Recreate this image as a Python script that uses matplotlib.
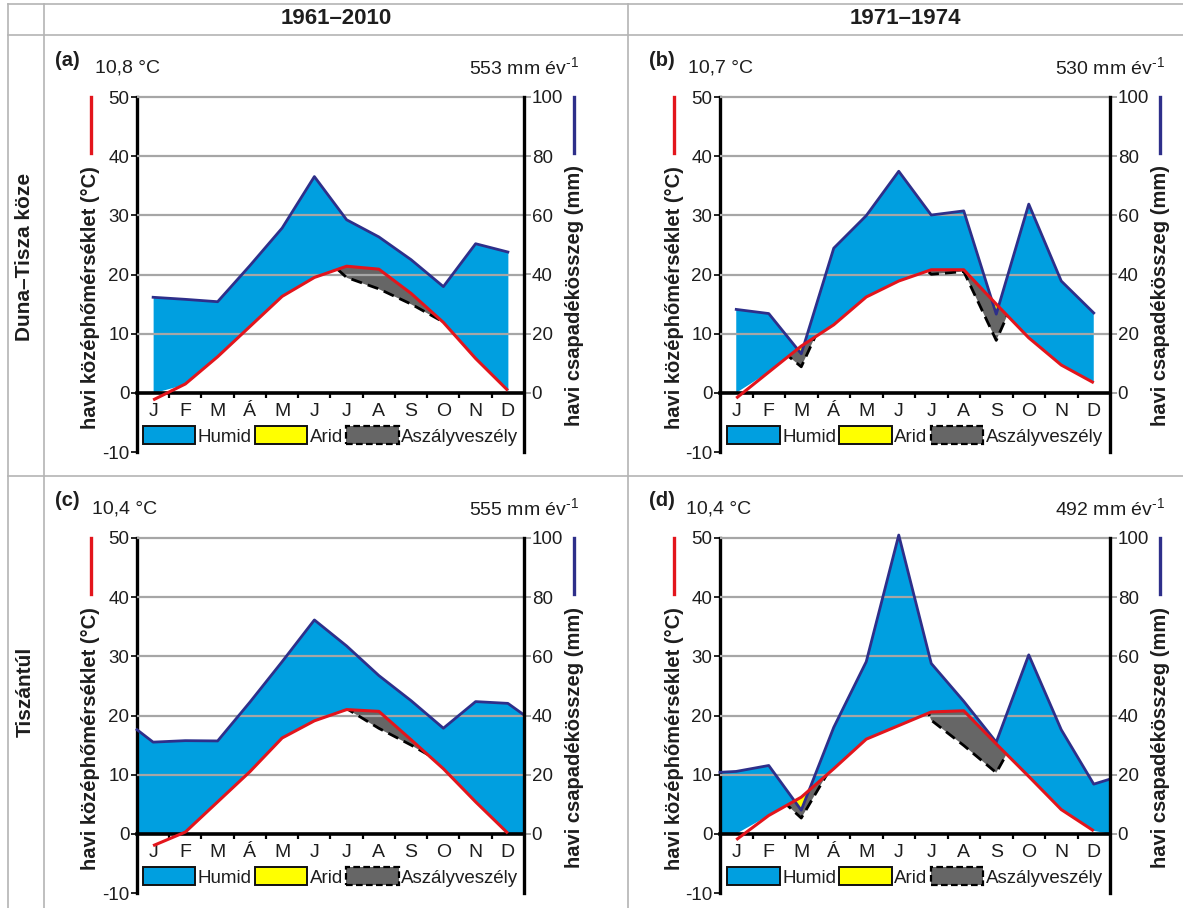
import numpy as np
import matplotlib
matplotlib.use("Agg")
import matplotlib.pyplot as plt
from matplotlib.patches import Patch, Polygon
from matplotlib.lines import Line2D

plt.rcParams['font.family'] = ['Liberation Sans', 'DejaVu Sans']
plt.rcParams['mathtext.fontset'] = 'custom'
plt.rcParams['mathtext.rm'] = 'Liberation Sans'
plt.rcParams['axes.unicode_minus'] = False

# ---- data -------------------------------------------------------------
months = ['J', 'F', 'M', 'Á', 'M', 'J', 'J', 'A', 'S', 'O', 'N', 'D']
periods = ['1961–2010', '1971–1974']
regions = ['Duna–Tisza köze', 'Tiszántúl']
tags = ['(a)', '(b)', '(c)', '(d)']

# monthly mean temperature (°C)
temp_a = [-1.2, 1.5, 6.1, 11.2, 16.3, 19.5, 21.4, 20.9, 16.8, 11.9, 5.8, 0.4]
temp_b = [-0.9, 3.5, 7.9, 11.5, 16.2, 18.9, 20.8, 20.8, 15.0, 9.3, 4.7, 1.7]
temp_c = [-2.0, 0.3, 5.4, 10.5, 16.2, 19.1, 21.0, 20.7, 15.9, 11.0, 5.4, 0.1]
temp_d = [-1.0, 3.1, 6.2, 11.0, 16.0, 18.3, 20.6, 20.8, 15.2, 9.7, 4.1, 0.5]

# monthly precipitation (mm)
prec_a = [32.3, 31.6, 30.8, 43.0, 55.7, 73.1, 58.5, 52.7, 45.0, 35.9, 50.4, 47.6]
prec_b = [28.2, 26.8, 13.2, 48.9, 59.9, 74.9, 60.1, 61.5, 26.6, 63.8, 37.8, 27.0]
prec_c = [31.0, 31.5, 31.4, 44.5, 58.2, 72.3, 63.5, 53.5, 45.0, 35.7, 44.7, 44.1]
prec_d = [21.1, 23.1, 8.0, 36.0, 58.2, 101.0, 57.6, 44.8, 31.0, 60.5, 35.2, 16.8]

# precipitation at the left / right edge of the diagram (mm), where drawn
edge_prec_c = [35.2, 40.2]
edge_prec_d = [20.8, 18.5]

annual_temp = ['10,8', '10,7', '10,4', '10,4']
annual_prec = ['553', '530', '555', '492']

temps = [temp_a, temp_b, temp_c, temp_d]
precs = [prec_a, prec_b, prec_c, prec_d]
edges = [None, None, edge_prec_c, edge_prec_d]

# ---- style --------------------------------------------------------------
BLUE = '#009fe0'
NAVY = '#2e2f8a'
RED = '#e3151c'
YELLOW = '#ffff00'
GRAY = '#666666'
GRID = '#a6a6a6'
TXT = '#1e1e1e'
TABLE = '#b4b4b4'

W, H = 1183, 908
fig = plt.figure(figsize=(W / 100, H / 100), dpi=100)


def fx(x):
    return x / W


def fy(y):
    return 1 - y / H


# table frame
def tline(x0, y0, x1, y1):
    fig.add_artist(Line2D([fx(x0), fx(x1)], [fy(y0), fy(y1)],
                          transform=fig.transFigure, color=TABLE, lw=1.2))


tline(8, 4, W, 4)
tline(8, 35, W, 35)
tline(8, 476, W, 476)
tline(8, 4, 8, H)
tline(44, 4, 44, H)
tline(628, 4, 628, H)

fig.text(fx(336), fy(19), periods[0], ha='center', va='center',
         fontsize=16, fontweight='bold', color=TXT)
fig.text(fx(905), fy(19), periods[1], ha='center', va='center',
         fontsize=16, fontweight='bold', color=TXT)
fig.text(fx(25), fy(257), regions[0], ha='center', va='center', rotation=90,
         fontsize=15, fontweight='bold', color=TXT)
fig.text(fx(25), fy(692), regions[1], ha='center', va='center', rotation=90,
         fontsize=15, fontweight='bold', color=TXT)

# axes boxes in pixels: left, right, top (50 °C), bottom (-10 °C)
boxes = [(137, 524, 97, 452), (720, 1110, 97, 452),
         (137, 524, 538, 893), (720, 1110, 538, 893)]
tag_x = [55, 649, 55, 649]
ttxt_x = [95, 688, 92, 686]

x = np.arange(12)

for k in range(4):
    l, r, t, b = boxes[k]
    ax = fig.add_axes([fx(l), fy(b), (r - l) / W, (b - t) / H])
    ax.patch.set_alpha(0)
    ax.set_xlim(-0.5, 11.5)
    ax.set_ylim(-10, 50)

    tmp = np.array(temps[k], dtype=float)
    pr = np.array(precs[k], dtype=float)
    p2 = pr / 2.0      # 10 °C = 20 mm
    p3 = pr / 3.0      # 10 °C = 30 mm (drought-risk curve)

    if edges[k] is not None:
        xf = np.r_[-0.5, x, 11.5]
        pf = np.r_[edges[k][0] / 2.0, p2, edges[k][1] / 2.0]
        lf = np.r_[0.0, np.maximum(tmp, 0), 0.0]
    else:
        xf = x.astype(float)
        pf = p2
        lf = np.maximum(tmp, 0)

    # humid period
    ax.fill_between(xf, lf, pf, where=pf >= lf, interpolate=True,
                    color=BLUE, lw=0, zorder=2, clip_on=False)
    # drought risk
    ax.fill_between(x, p3, tmp, where=tmp > p3, interpolate=True,
                    color=GRAY, lw=0, zorder=3)
    # arid period
    ax.fill_between(x, p2, tmp, where=tmp > p2, interpolate=True,
                    color=YELLOW, lw=0, zorder=3.5)

    # grid lines
    ax.hlines(np.arange(10, 51, 10), -0.5, 11.5, color=GRID, lw=1.6,
              zorder=4, clip_on=False)

    # dashed drought-risk curve, shown only below the temperature curve
    dl, = ax.plot(x, p3, color='black', lw=2.0, ls=(0, (4.0, 2.2)),
                  zorder=5)
    clip = Polygon(np.c_[np.r_[x, x[::-1]], np.r_[tmp, np.full(12, -10.0)]],
                   closed=True, transform=ax.transData)
    dl.set_clip_path(clip)

    ax.plot(xf, pf, color=NAVY, lw=2.0, zorder=6, clip_on=False)
    ax.plot(x, tmp, color=RED, lw=2.2, zorder=7, solid_capstyle='butt')

    # axes decoration
    ax.spines['top'].set_visible(False)
    ax.spines['right'].set_visible(False)
    ax.spines['left'].set_linewidth(2.4)
    ax.spines['left'].set_color('black')
    ax.spines['bottom'].set_position(('data', 0))
    ax.spines['bottom'].set_linewidth(2.6)
    ax.spines['bottom'].set_zorder(6.5)
    ax.set_yticks(np.arange(-10, 51, 10))
    ax.set_xticks(x)
    ax.set_xticklabels(months)
    ax.set_xticks(np.arange(0.5, 11.0, 1.0), minor=True)
    ax.tick_params(axis='x', which='major', length=0, pad=7.5,
                   labelsize=14, labelcolor=TXT)
    ax.tick_params(axis='x', which='minor', length=3.5, width=1.6,
                   direction='out', color='black')
    ax.tick_params(axis='y', length=4, width=1.2, pad=1.5, labelsize=13.5,
                   labelcolor=TXT)

    ax2 = ax.twinx()
    ax2.set_ylim(-20, 100)
    ax2.set_yticks(np.arange(0, 101, 20))
    for s in ('left', 'top', 'bottom'):
        ax2.spines[s].set_visible(False)
    ax2.spines['right'].set_linewidth(2.4)
    ax2.spines['right'].set_color('black')
    ax2.tick_params(axis='y', length=5, width=1.4, color=GRID, pad=0.5,
                    labelsize=13.5, labelcolor=TXT)

    # legend
    handles = [Patch(facecolor=BLUE, edgecolor='#111111', lw=1.4),
               Patch(facecolor=YELLOW, edgecolor='#111111', lw=1.4),
               Patch(facecolor=GRAY, edgecolor='black', lw=1.6,
                     linestyle=(0, (3, 1.5)))]
    ax.legend(handles, ['Humid', 'Arid', 'Aszályveszély'], loc='center',
              bbox_to_anchor=(0.5, 0.045), ncol=3, frameon=False,
              fontsize=13.5, handlelength=2.8, handleheight=1.05,
              handletextpad=0.15, columnspacing=0.15, borderpad=0,
              borderaxespad=0, labelcolor=TXT)

    # annotations above the diagram
    fig.text(fx(tag_x[k]), fy(t - 37), tags[k], ha='left', va='center',
             fontsize=14.5, fontweight='bold', color=TXT)
    fig.text(fx(ttxt_x[k]), fy(t - 29), annual_temp[k] + ' °C', ha='left',
             va='center', fontsize=14, color=TXT)
    fig.text(fx(r + 55), fy(t - 29),
             annual_prec[k] + r' mm év$^{\text{-1}}$', ha='right',
             va='center', fontsize=14, color=TXT)

    # axis titles with colour keys
    lx = l - 46
    fig.add_artist(Line2D([fx(lx), fx(lx)], [fy(t), fy(t + 56)],
                          transform=fig.transFigure, color=RED, lw=2.4))
    fig.text(fx(lx), fy(t + 201), 'havi középhőmérséklet (°C)', rotation=90,
             ha='center', va='center', fontsize=14.5, fontweight='bold',
             color=TXT)
    rx = r + 50
    fig.add_artist(Line2D([fx(rx), fx(rx)], [fy(t), fy(t + 56)],
                          transform=fig.transFigure, color=NAVY, lw=2.4))
    fig.text(fx(rx), fy(t + 199), 'havi csapadékösszeg (mm)', rotation=90,
             ha='center', va='center', fontsize=14.5, fontweight='bold',
             color=TXT)

fig.savefig('out.png', dpi=100, facecolor='white')
